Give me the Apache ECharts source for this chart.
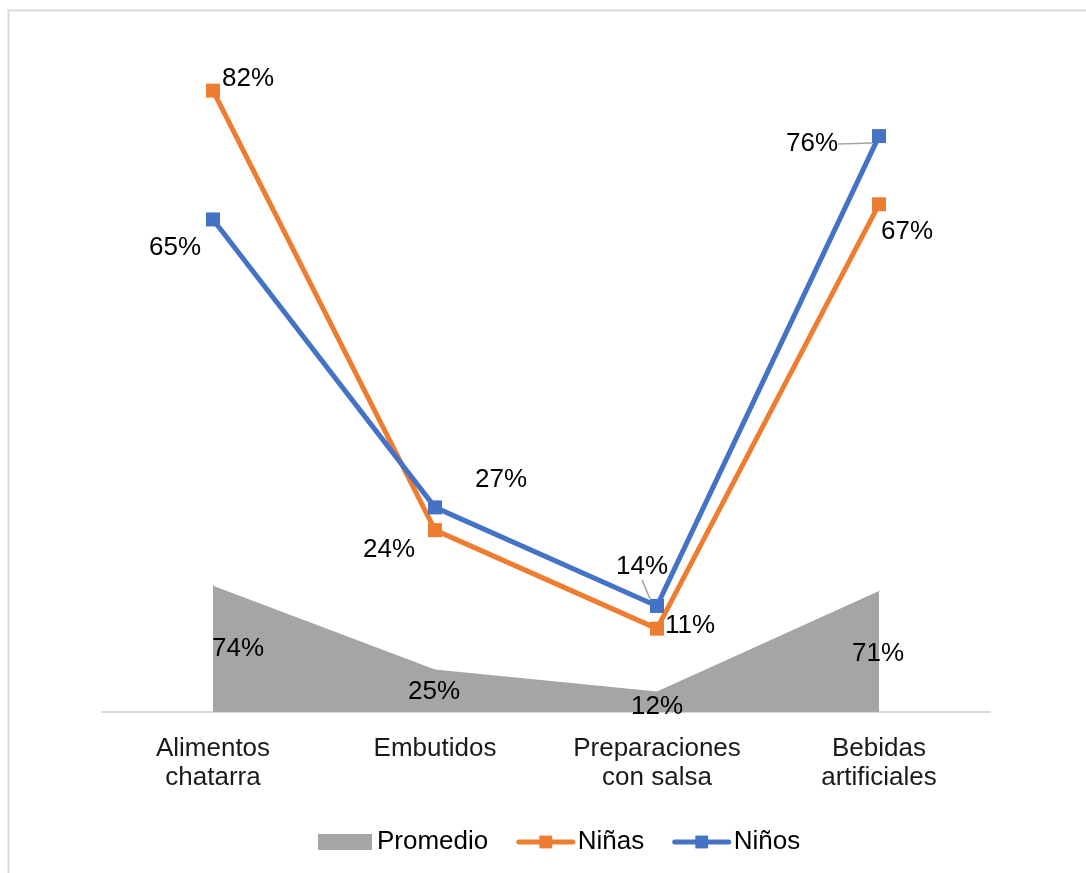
<!DOCTYPE html>
<html>
<head>
<meta charset="utf-8">
<script src="https://cdn.jsdelivr.net/npm/echarts@6/dist/echarts.min.js"></script>
<style>
  html, body { margin: 0; padding: 0; background: #fff; }
  #chart { width: 1086px; height: 873px; }
</style>
</head>
<body>
<div id="chart"></div>
<script>
const categorias = ['Alimentos\nchatarra', 'Embutidos', 'Preparaciones\ncon salsa', 'Bebidas\nartificiales']
const promedio = [0.74, 0.25, 0.12, 0.71]
const ninas = [0.82, 0.24, 0.11, 0.67]
const ninos = [0.65, 0.27, 0.14, 0.76]

// label shifts relative to each point (px)
const shiftPromedio = [[25, 63], [-1, 22], [0, 15], [-1, 63]]
const shiftNinas = [[35, -12], [-46, 20], [33, -3], [28, 28]]
const shiftNinos = [[-38, 28], [66, -28], [-15, -39], [-67, 8]]

const font = 'Liberation Sans, Arial, sans-serif'
const pct = (p) => Math.round(p.value * 100) + '%'

const labelBase = {
  show: true,
  position: 'inside',
  formatter: pct,
  color: '#000',
  fontSize: 26,
  fontFamily: font
}

const chart = echarts.init(document.getElementById('chart'))

chart.setOption({
  animation: false,
  backgroundColor: '#fff',
  graphic: [{
    type: 'rect',
    shape: { x: 8.5, y: 10.5, width: 1200, height: 1000 },
    style: { fill: 'none', stroke: '#D9D9D9', lineWidth: 2 },
    silent: true
  }],
  grid: { left: 102, right: 96, top: 30, bottom: 161 },
  legend: {
    left: 313,
    top: 824,
    itemWidth: 54,
    itemHeight: 16,
    itemGap: 28,
    textStyle: { fontSize: 26, fontFamily: font, color: '#000' },
    data: [
      { name: 'Promedio', icon: 'rect' },
      { name: 'Niñas', lineStyle: { width: 5, cap: 'round' } },
      { name: 'Niños', lineStyle: { width: 5, cap: 'round' } }
    ]
  },
  xAxis: {
    type: 'category',
    data: categorias,
    boundaryGap: true,
    axisLine: { lineStyle: { color: '#D9D9D9', width: 2 } },
    axisTick: { show: false },
    axisLabel: {
      fontSize: 26,
      fontFamily: font,
      color: '#1a1a1a',
      lineHeight: 29,
      margin: 22
    }
  },
  yAxis: [
    { type: 'value', min: 0, max: 0.9, show: false, splitLine: { show: false } },
    { type: 'value', min: 0, max: 4, show: false, splitLine: { show: false } }
  ],
  series: [
    {
      name: 'Promedio',
      type: 'line',
      yAxisIndex: 1,
      data: promedio,
      symbol: 'circle',
      symbolSize: 1,
      itemStyle: { color: '#A5A5A5' },
      lineStyle: { width: 0 },
      areaStyle: { color: '#A5A5A5', opacity: 1 },
      label: labelBase,
      labelLayout: (p) => ({ dx: shiftPromedio[p.dataIndex][0], dy: shiftPromedio[p.dataIndex][1] }),
      z: 1
    },
    {
      name: 'Niñas',
      type: 'line',
      data: ninas,
      symbol: 'rect',
      symbolSize: 14,
      itemStyle: { color: '#ED7D31' },
      lineStyle: { width: 5, color: '#ED7D31' },
      label: labelBase,
      labelLayout: (p) => ({ dx: shiftNinas[p.dataIndex][0], dy: shiftNinas[p.dataIndex][1] }),
      z: 3
    },
    {
      name: 'Niños',
      type: 'line',
      data: ninos.map((v, i) => (i >= 2 ? { value: v, labelLine: { show: true } } : v)),
      symbol: 'rect',
      symbolSize: 14,
      itemStyle: { color: '#4472C4' },
      lineStyle: { width: 5, color: '#4472C4' },
      label: labelBase,
      labelLine: { lineStyle: { color: '#A5A5A5', width: 1.5 } },
      labelLayout: (p) => ({ dx: shiftNinos[p.dataIndex][0], dy: shiftNinos[p.dataIndex][1] }),
      z: 4
    }
  ]
})
</script>
</body>
</html>
